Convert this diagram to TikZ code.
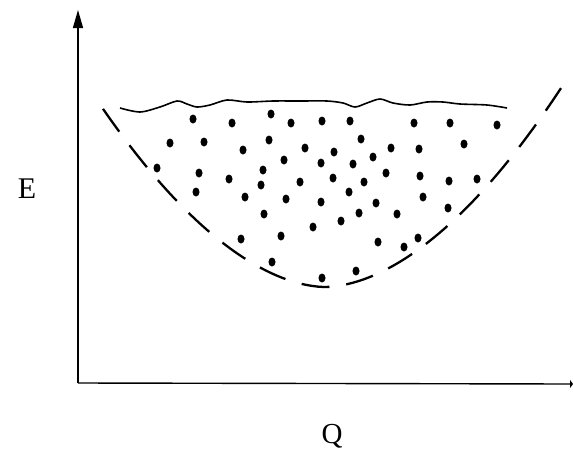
\documentclass[tikz,border=0pt]{standalone}
\usepackage{fontspec}
\setmainfont{Liberation Serif}
\usetikzlibrary{arrows.meta}
\begin{document}
\begin{tikzpicture}[x=1pt,y=-1pt]
  \useasboundingbox (0,0) rectangle (573,451);
  \coordinate (O) at (78,383);
  \coordinate (Etop) at (78,10);
  \coordinate (Qend) at (573,384);

  \draw[line width=1.4, -{Triangle[length=18pt,width=10pt]}] (O) -- (Etop);
  \draw[line width=1.4, -{Triangle[length=3pt,width=8pt]}] (O) -- (Qend);

  \node[font=\fontsize{30}{36}\selectfont, inner sep=0, anchor=base] (E) at (27,198) {E};
  \node[font=\fontsize{29}{34}\selectfont, inner sep=0, anchor=base] (Q) at (332,443) {Q};

  \draw[line width=2.3, dash pattern=on 28pt off 17pt]
    plot[domain=-222:236, samples=80] ({325+\x}, {287-42.4*pow(abs(\x)/100,1.8)});

  \draw[line width=1.6] plot[smooth, tension=0.5] coordinates {
    (120,108) (140,112) (160,107) (177,101) (187,104) (197,107) (210,105)
    (227,100) (247,102) (273,101) (300,101) (327,101) (343,103) (355,107)
    (367,103) (380,99) (393,103) (410,105) (427,102) (443,102) (460,104)
    (487,105) (507,108)};

  \foreach \x/\y in {193/119, 232/123, 271/114, 291/123, 322/121, 350/121,
      414/123, 450/123, 497/125, 170/143, 204/142, 243/150, 269/140, 305/148,
      334/152, 361/139, 391/148, 419/149, 464/144, 284/160, 321/163, 353/164,
      373/157, 157/168, 199/173, 229/179, 263/170, 333/178, 386/173, 420/176,
      449/181, 477/179, 196/192, 261/185, 300/182, 364/182, 245/197, 286/199,
      321/202, 349/192, 423/197, 376/203, 264/214, 359/213, 397/214, 448/208,
      313/227, 341/221, 241/239, 281/236, 378/242, 418/238, 404/247, 272/262,
      356/271, 322/278}
    \fill (\x,\y) ellipse (3.5 and 4.5);
\end{tikzpicture}
\end{document}
